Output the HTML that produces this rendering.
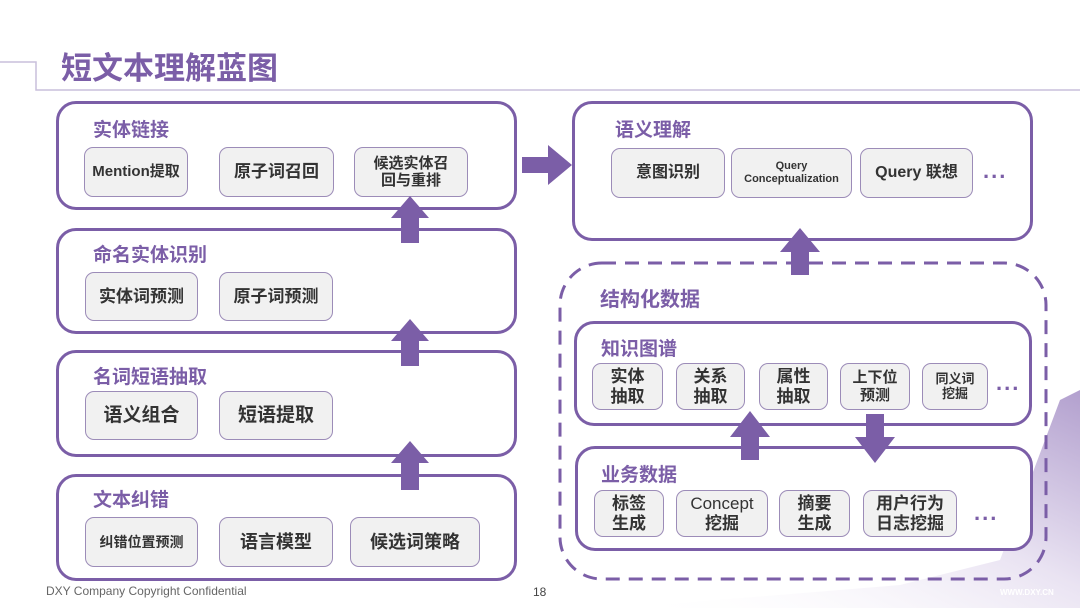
<!DOCTYPE html>
<html><head><meta charset="utf-8"><style>
*{margin:0;padding:0;box-sizing:border-box}
body{width:1080px;height:608px;position:relative;overflow:hidden;background:#fff;font-family:"Liberation Sans","Noto Sans CJK SC",sans-serif}
.a{position:absolute}
.box{position:absolute;border:3px solid #7b5ea7;border-radius:20px;background:#fff}
.t{position:absolute;color:#7b5ea7;font-weight:bold;font-size:19px;white-space:nowrap}
.i{position:absolute;border:1.5px solid #9c8cb8;border-radius:9px;background:#f1f1f1;color:#333;font-weight:bold;display:flex;flex-direction:column;align-items:center;justify-content:center;text-align:center;line-height:1.15;font-size:17px;white-space:nowrap}
.d{position:absolute;color:#7b5ea7;font-weight:bold;font-size:22px;letter-spacing:2px}
</style></head><body>
<svg class="a" style="left:0;top:0" width="1080" height="608">
<defs><linearGradient id="g" x1="0" y1="1" x2="1" y2="0"><stop offset="0" stop-color="#fff" stop-opacity="0"/><stop offset="0.55" stop-color="#e4dcef"/><stop offset="1" stop-color="#9f88c2"/></linearGradient></defs>
<polygon points="620,608 1080,608 1080,390 1060,400 1000,560 900,585" fill="url(#g)" opacity="0.8"/>
<polyline points="0,62 36,62 36,90 1080,90" fill="none" stroke="#c9bfdc" stroke-width="1.5"/>
<rect x="560" y="263" width="486" height="316" rx="42" fill="none" stroke="#7b5ea7" stroke-width="3" stroke-dasharray="14,9"/>
</svg>
<div class="a" style="left:61px;top:43px;font-size:31px;font-weight:bold;color:#7b5ea7">短文本理解蓝图</div>

<div class="box" style="left:56px;top:101px;width:461px;height:109px"></div>
<div class="t" style="left:93px;top:115px">实体链接</div>
<div class="i" style="left:84px;top:147px;width:104px;height:50px;font-size:15px">Mention提取</div>
<div class="i" style="left:219px;top:147px;width:115px;height:50px">原子词召回</div>
<div class="i" style="left:354px;top:147px;width:114px;height:50px;font-size:15px"><span>候选实体召</span><span>回与重排</span></div>

<div class="box" style="left:56px;top:228px;width:461px;height:106px"></div>
<div class="t" style="left:93px;top:240px">命名实体识别</div>
<div class="i" style="left:85px;top:272px;width:113px;height:49px">实体词预测</div>
<div class="i" style="left:219px;top:272px;width:114px;height:49px">原子词预测</div>

<div class="box" style="left:56px;top:350px;width:461px;height:107px"></div>
<div class="t" style="left:93px;top:362px">名词短语抽取</div>
<div class="i" style="left:85px;top:391px;width:113px;height:49px;font-size:19px">语义组合</div>
<div class="i" style="left:219px;top:391px;width:114px;height:49px;font-size:19px">短语提取</div>

<div class="box" style="left:56px;top:474px;width:461px;height:107px"></div>
<div class="t" style="left:93px;top:485px">文本纠错</div>
<div class="i" style="left:85px;top:517px;width:113px;height:50px;font-size:14px">纠错位置预测</div>
<div class="i" style="left:219px;top:517px;width:114px;height:50px;font-size:18px">语言模型</div>
<div class="i" style="left:350px;top:517px;width:130px;height:50px;font-size:18px">候选词策略</div>

<div class="box" style="left:572px;top:101px;width:461px;height:140px"></div>
<div class="t" style="left:615px;top:115px">语义理解</div>
<div class="i" style="left:611px;top:148px;width:114px;height:50px;font-size:16px">意图识别</div>
<div class="i" style="left:731px;top:148px;width:121px;height:50px;font-size:11px"><span>Query</span><span>Conceptualization</span></div>
<div class="i" style="left:860px;top:148px;width:113px;height:50px;font-size:16px">Query 联想</div>
<div class="d" style="left:983px;top:158px">...</div>

<div class="t" style="left:600px;top:283px;font-size:20px">结构化数据</div>

<div class="box" style="left:574px;top:321px;width:458px;height:105px"></div>
<div class="t" style="left:601px;top:334px">知识图谱</div>
<div class="i" style="left:592px;top:363px;width:71px;height:47px"><span>实体</span><span>抽取</span></div>
<div class="i" style="left:676px;top:363px;width:69px;height:47px"><span>关系</span><span>抽取</span></div>
<div class="i" style="left:759px;top:363px;width:69px;height:47px"><span>属性</span><span>抽取</span></div>
<div class="i" style="left:840px;top:363px;width:70px;height:47px;font-size:15px"><span>上下位</span><span>预测</span></div>
<div class="i" style="left:922px;top:363px;width:66px;height:47px;font-size:13px"><span>同义词</span><span>挖掘</span></div>
<div class="d" style="left:996px;top:370px">...</div>

<div class="box" style="left:575px;top:446px;width:458px;height:105px"></div>
<div class="t" style="left:601px;top:460px">业务数据</div>
<div class="i" style="left:594px;top:490px;width:70px;height:47px"><span>标签</span><span>生成</span></div>
<div class="i" style="left:676px;top:490px;width:92px;height:47px;font-weight:normal"><span>Concept</span><b>挖掘</b></div>
<div class="i" style="left:779px;top:490px;width:71px;height:47px"><span>摘要</span><span>生成</span></div>
<div class="i" style="left:863px;top:490px;width:94px;height:47px"><span>用户行为</span><span>日志挖掘</span></div>
<div class="d" style="left:974px;top:500px">...</div>

<svg class="a" style="left:0;top:0" width="1080" height="608">
<g fill="#7b5ea7">
<polygon points="401,243 401,218 391,218 410,196 429,218 419,218 419,243"/>
<polygon points="401,366 401,341 391,341 410,319 429,341 419,341 419,366"/>
<polygon points="401,490 401,463 391,463 410,441 429,463 419,463 419,490"/>
<polygon points="522,157 548,157 548,145 572,165 548,185 548,173 522,173"/>
<polygon points="791,275 791,252 780,252 800,228 820,252 809,252 809,275"/>
<polygon points="741,460 741,437 730,437 750,411 770,437 759,437 759,460"/>
<polygon points="866,414 884,414 884,437 895,437 875,463 855,437 866,437"/>
</g>
</svg>

<div class="a" style="left:46px;top:584px;font-size:12px;color:#666">DXY Company Copyright Confidential</div>
<div class="a" style="left:533px;top:585px;font-size:12px;color:#444">18</div>
<div class="a" style="left:1000px;top:588px;font-size:8px;color:#fff;font-weight:bold">WWW.DXY.CN</div>
</body></html>
